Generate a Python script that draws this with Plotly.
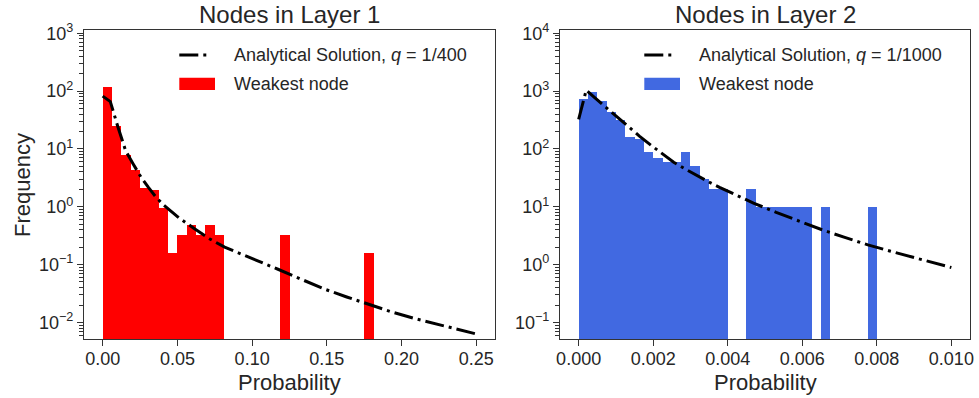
import plotly.graph_objects as go

# ---------------- data ----------------
left_bin_width = 0.00625
left_freq = [116, 24.5, 7.84, 4.32, 2.08, 1.92, 0.96, 0.16, 0.32, 0.48,
             0.32, 0.48, 0.32, 0, 0, 0, 0, 0, 0, 0.32,
             0, 0, 0, 0, 0, 0, 0, 0, 0.16, 0,
             0, 0, 0, 0, 0, 0, 0, 0, 0, 0]

right_bin_width = 0.00025
right_freq = [720, 970, 670, 430, 320, 160, 150, 90, 70, 60,
              60, 90, 50, 30, 20, 20, 0, 0, 20, 10,
              10, 10, 10, 10, 10, 0, 10, 0, 0, 0,
              0, 10, 0, 0, 0, 0, 0, 0, 0, 0]

left_curve_x = [0, 0.0051, 0.0102, 0.0153, 0.0204, 0.0255, 0.0306, 0.0357, 0.0408,
                0.0459, 0.051, 0.0612, 0.0714, 0.0816, 0.0918, 0.102, 0.1173, 0.1327,
                0.148, 0.1633, 0.1786, 0.1939, 0.2092, 0.2245, 0.2398, 0.25]
left_curve_y = [82, 66, 24, 9.4, 5.5, 3.3, 2.16, 1.46, 1.07,
                0.82, 0.645, 0.42, 0.28, 0.20, 0.157, 0.123, 0.083, 0.056,
                0.038, 0.0275, 0.020, 0.015, 0.0116, 0.0092, 0.0073, 0.0063]

right_curve_x = [0, 0.000204, 0.000408, 0.000612, 0.000816, 0.00102, 0.00133, 0.00163,
                 0.00194, 0.00224, 0.00255, 0.00286, 0.00316, 0.00347, 0.00378, 0.00408,
                 0.00469, 0.0053, 0.00592, 0.00653, 0.00714, 0.00776, 0.00837, 0.00898,
                 0.00959, 0.01]
right_curve_y = [325, 1040, 796, 610, 467, 360, 244, 167,
                 116, 82, 59, 45, 34.7, 27.3, 21.7, 17.5,
                 11.6, 8.0, 5.65, 4.0, 2.95, 2.19, 1.70, 1.33,
                 1.05, 0.89]

left_xticks = [0.00, 0.05, 0.10, 0.15, 0.20, 0.25]
right_xticks = [0.000, 0.002, 0.004, 0.006, 0.008, 0.010]
left_yexp = [-2, -1, 0, 1, 2, 3]
right_yexp = [-1, 0, 1, 2, 3, 4]

titles = ["Nodes in Layer 1", "Nodes in Layer 2"]
curve_labels = ["Analytical Solution, <i>q</i> = 1/400",
                "Analytical Solution, <i>q</i> = 1/1000"]
bar_label = "Weakest node"
bar_colors = ["#ff0000", "#4169e1"]

# ---------------- layout helpers ----------------
W, H = 979, 398
TXT = "#262626"
FONT = "Liberation Sans, Arial, sans-serif"
DASH = "19px,5px,3px,5px"

def px(x):
    return x / W

def py(y):
    return (H - y) / H

fig = go.Figure()

def bars(freq, bw, color, xa, ya):
    xs = [bw * (i + 0.5) for i in range(len(freq))]
    ys = [f if f > 0 else None for f in freq]
    fig.add_trace(go.Bar(x=xs, y=ys, width=bw, marker=dict(color=color, line=dict(width=0)),
                         xaxis=xa, yaxis=ya, showlegend=False))

bars(left_freq, left_bin_width, bar_colors[0], "x", "y")
bars(right_freq, right_bin_width, bar_colors[1], "x2", "y2")

fig.add_trace(go.Scatter(x=left_curve_x, y=left_curve_y, mode="lines",
                         line=dict(color="black", width=3, dash=DASH),
                         xaxis="x", yaxis="y", showlegend=False))
fig.add_trace(go.Scatter(x=right_curve_x, y=right_curve_y, mode="lines",
                         line=dict(color="black", width=3, dash=DASH),
                         xaxis="x2", yaxis="y2", showlegend=False))

def minor_vals(exps):
    out = []
    for e in range(exps[0] - 1, exps[-1] + 1):
        for m in range(2, 10):
            out.append(m * 10 ** e)
    return out

def ylabel(e):
    s = str(e).replace("-", "\u2212")
    return "10<sup>%s</sup>" % s

common_axis = dict(showline=True, linecolor="#333333", linewidth=1.2, mirror=True,
                   showgrid=False, zeroline=False, ticks="outside", ticklen=6, tickwidth=1.2,
                   tickcolor="#333333", tickfont=dict(family=FONT, size=18, color=TXT),
                   automargin=False)

ydom = [py(339), py(30)]
fig.update_layout(
    width=W, height=H, margin=dict(l=0, r=0, t=0, b=0),
    paper_bgcolor="white", plot_bgcolor="white", bargap=0, barmode="overlay",
    xaxis=dict(domain=[px(84), px(495)], range=[-0.0125, 0.2625], anchor="y",
               tickvals=left_xticks, ticktext=["%.2f" % v for v in left_xticks],
               ticklabelstandoff=-3, **common_axis),
    xaxis2=dict(domain=[px(560), px(970)], range=[-0.0005, 0.0105], anchor="y2",
                tickvals=right_xticks, ticktext=["%.3f" % v for v in right_xticks],
                ticklabelstandoff=-3, **common_axis),
    yaxis=dict(domain=ydom, type="log", range=[-2.287, 3.057], anchor="x",
               tickvals=[10 ** e for e in left_yexp], ticktext=[ylabel(e) for e in left_yexp],
               minor=dict(tickvals=minor_vals(left_yexp), ticks="outside", ticklen=3.5,
                          tickwidth=1, tickcolor="#333333"),
               **common_axis),
    yaxis2=dict(domain=ydom, type="log", range=[-1.287, 4.057], anchor="x2",
                tickvals=[10 ** e for e in right_yexp], ticktext=[ylabel(e) for e in right_yexp],
                minor=dict(tickvals=minor_vals(right_yexp), ticks="outside", ticklen=3.5,
                           tickwidth=1, tickcolor="#333333"),
                **common_axis),
)

annotations = []
shapes = []
panels = [(84, 495), (560, 970)]
for i, (x0, x1) in enumerate(panels):
    cx = (x0 + x1) / 2
    annotations.append(dict(text=titles[i], x=px(cx), y=py(15), xref="paper", yref="paper",
                            showarrow=False, xanchor="center", yanchor="middle",
                            font=dict(family=FONT, size=24, color=TXT)))
    annotations.append(dict(text="Probability", x=px(cx), y=py(382), xref="paper", yref="paper",
                            showarrow=False, xanchor="center", yanchor="middle",
                            font=dict(family=FONT, size=22, color=TXT)))
    # legend
    tx = x1 - 18.3 - (245 if i == 0 else 255)
    lx0 = tx - 52.4
    shapes.append(dict(type="line", xref="paper", yref="paper", x0=px(lx0), x1=px(lx0 + 32),
                       y0=py(55), y1=py(55), line=dict(color="black", width=3, dash=DASH)))
    shapes.append(dict(type="rect", xref="paper", yref="paper", x0=px(lx0), x1=px(lx0 + 35.7),
                       y0=py(90), y1=py(77.7), line=dict(width=0), fillcolor=bar_colors[i]))
    annotations.append(dict(text=curve_labels[i], x=px(tx), y=py(55), xref="paper", yref="paper",
                            showarrow=False, xanchor="left", yanchor="middle",
                            font=dict(family=FONT, size=18, color=TXT)))
    annotations.append(dict(text=bar_label, x=px(tx), y=py(84), xref="paper", yref="paper",
                            showarrow=False, xanchor="left", yanchor="middle",
                            font=dict(family=FONT, size=18, color=TXT)))

annotations.append(dict(text="Frequency", x=px(23), y=py(185), xref="paper", yref="paper",
                        showarrow=False, xanchor="center", yanchor="middle", textangle=-90,
                        font=dict(family=FONT, size=22, color=TXT)))

fig.update_layout(annotations=annotations, shapes=shapes)
fig.write_html("out.html")
